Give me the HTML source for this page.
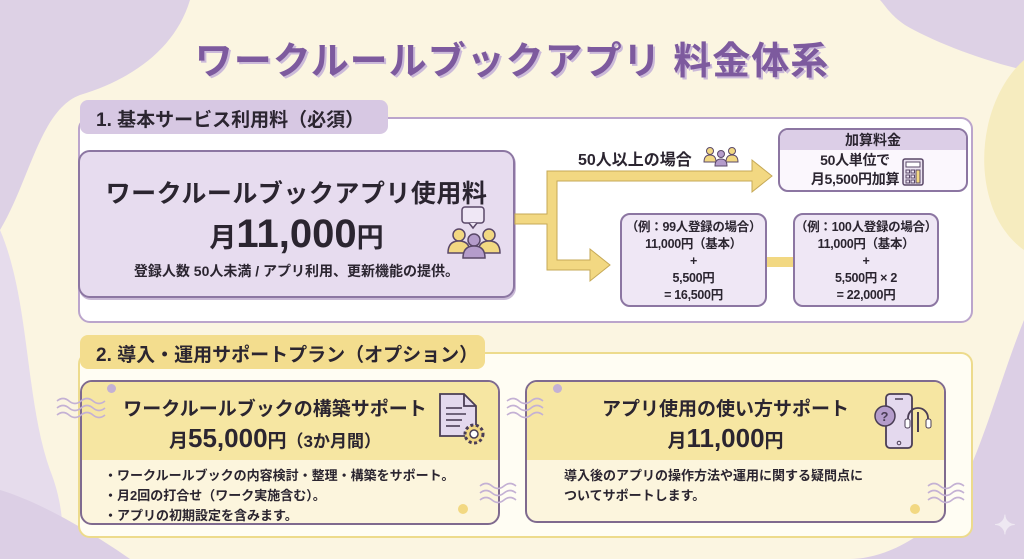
<!DOCTYPE html>
<html><head><meta charset="utf-8"><style>
*{margin:0;padding:0;box-sizing:border-box}
body{width:1024px;height:559px;overflow:hidden;position:relative;background:#fbf5e1;font-family:"Liberation Sans","Noto Sans CJK JP",sans-serif;color:#2b2530;font-weight:bold}
.a{position:absolute}
.c{text-align:center}
.ex{white-space:nowrap;letter-spacing:-0.3px}
</style></head><body>
<svg class="a" style="left:0;top:0" width="1024" height="559">
<path d="M0 0 H190 C175 50 130 80 80 95 C40 110 30 180 0 230 Z" fill="#ddd1e5"/>
<path d="M0 230 C30 300 25 400 50 470 C70 520 60 559 60 559 H0 Z" fill="#e6dcec"/>
<path d="M880 0 H1024 V70 C980 60 930 40 905 25 C890 15 885 5 880 0Z" fill="#ddd1e5"/>
<path d="M1024 60 C990 90 975 150 990 200 C1000 235 1024 250 1024 250Z" fill="#f6ecbf"/>
<path d="M1024 320 C1000 380 985 440 960 490 C930 540 880 559 850 559 H1024Z" fill="#dccfe5"/>
<path d="M0 490 C50 505 110 545 130 559 H0Z" fill="#dccfe5"/>
</svg>
<div class="a c" style="left:0;width:1024px;top:30px;font-size:38px;color:#7d5a9e;letter-spacing:1px;text-shadow:2px 2px 0 #cbb9d9">ワークルールブックアプリ 料金体系</div>

<!-- section 1 -->
<div class="a" style="left:78px;top:117px;width:895px;height:206px;background:#fff;border:2px solid #bba5cc;border-radius:12px"></div>
<div class="a" style="left:80px;top:100px;width:308px;height:34px;background:#d7c8e3;border-radius:8px;font-size:19px;padding:5px 0 0 16px">1. 基本サービス利用料（必須）</div>
<div class="a c" style="left:78px;top:150px;width:437px;height:148px;background:#e7dcef;border:2px solid #8c76a2;border-radius:12px;box-shadow:1px 2px 0 #c9b9d6">
<div style="font-size:25px;margin-top:22px;letter-spacing:0.5px">ワークルールブックアプリ使用料</div>
<div style="font-size:27px;margin-top:2px">月<span style="font-size:40px">11,000</span>円</div>
<div style="font-size:14px;margin-top:4px">登録人数 50人未満 / アプリ利用、更新機能の提供。</div>
</div>
<svg class="a" style="left:445px;top:205px" width="60" height="55">
<rect x="17" y="2" width="22" height="16" rx="3" fill="#efe7f5" stroke="#5a4868" stroke-width="1.5"/><path d="M24 18 l4 5 l4-5" fill="#efe7f5" stroke="#5a4868" stroke-width="1.5"/>
<circle cx="14" cy="30" r="6" fill="#f2d882" stroke="#5a4868" stroke-width="1.5"/><path d="M3 48 q0-12 11-12 q11 0 11 12z" fill="#f2d882" stroke="#5a4868" stroke-width="1.5"/>
<circle cx="44" cy="30" r="6" fill="#f2d882" stroke="#5a4868" stroke-width="1.5"/><path d="M33 48 q0-12 11-12 q11 0 11 12z" fill="#f2d882" stroke="#5a4868" stroke-width="1.5"/>
<circle cx="29" cy="35" r="6" fill="#b49ccb" stroke="#5a4868" stroke-width="1.5"/><path d="M18 53 q0-12 11-12 q11 0 11 12z" fill="#b49ccb" stroke="#5a4868" stroke-width="1.5"/>
</svg>
<svg class="a" style="left:510px;top:150px" width="290" height="140">
<path d="M5 64 H37 V21 H242 V10 L262 26 L242 42 V31 H47 V110 H80 V99 L100 115 L80 131 V120 H37 V74 H5Z" fill="#f2d882" stroke="#c6a957" stroke-width="1"/>
<rect x="256" y="107" width="28" height="10" fill="#f2d882"/>
</svg>
<div class="a" style="left:578px;top:146px;font-size:16px">50人以上の場合</div>
<svg class="a" style="left:703px;top:145px" width="36" height="22">
<circle cx="7" cy="6" r="3.5" fill="#f2d882" stroke="#5a4868"/><path d="M1 17 q0-7 6-7 q6 0 6 7z" fill="#f2d882" stroke="#5a4868"/>
<circle cx="29" cy="6" r="3.5" fill="#f2d882" stroke="#5a4868"/><path d="M23 17 q0-7 6-7 q6 0 6 7z" fill="#f2d882" stroke="#5a4868"/>
<circle cx="18" cy="9" r="3.5" fill="#b49ccb" stroke="#5a4868"/><path d="M12 21 q0-7 6-7 q6 0 6 7z" fill="#b49ccb" stroke="#5a4868"/>
</svg>
<div class="a" style="left:778px;top:128px;width:190px;height:64px;background:#fbf7fd;border:2px solid #8c76a2;border-radius:10px;overflow:hidden">
<div class="c" style="background:#dccee7;height:20px;font-size:14px;line-height:20px">加算料金</div>
<div class="c ex" style="font-size:14px;line-height:19px;margin-top:1px;padding-right:36px">50人単位で<br>月5,500円加算</div>
</div>
<svg class="a" style="left:902px;top:158px" width="22" height="28"><rect x="1" y="1" width="20" height="26" rx="2" fill="#ece4f2" stroke="#5a4868" stroke-width="1.5"/><rect x="4" y="4" width="14" height="5" fill="#fff" stroke="#5a4868"/><g fill="none" stroke="#5a4868"><rect x="4" y="12" width="3.5" height="3"/><rect x="9" y="12" width="3.5" height="3"/><rect x="4" y="17" width="3.5" height="3"/><rect x="9" y="17" width="3.5" height="3"/><rect x="4" y="22" width="3.5" height="3"/><rect x="9" y="22" width="3.5" height="3"/></g><rect x="14" y="12" width="4" height="13" fill="#f2d882" stroke="#5a4868"/></svg>
<div class="a c ex" style="left:620px;top:213px;width:147px;height:94px;background:#efe7f5;border:2px solid #8c76a2;border-radius:10px;font-size:12.5px;line-height:17px;padding-top:4px">（例：99人登録の場合）<br>11,000円（基本）<br>+<br>5,500円<br>= 16,500円</div>
<div class="a c ex" style="left:793px;top:213px;width:146px;height:94px;background:#efe7f5;border:2px solid #8c76a2;border-radius:10px;font-size:12.5px;line-height:17px;padding-top:4px">（例：100人登録の場合）<br>11,000円（基本）<br>+<br>5,500円 × 2<br>= 22,000円</div>

<!-- section 2 -->
<div class="a" style="left:78px;top:352px;width:895px;height:186px;background:#fffdf3;border:2px solid #eddb8c;border-radius:12px"></div>
<div class="a" style="left:80px;top:335px;width:405px;height:34px;background:#f3dd8e;border-radius:8px;font-size:19px;padding:5px 0 0 16px">2. 導入・運用サポートプラン（オプション）</div>

<div class="a" style="left:80px;top:380px;width:420px;height:145px;background:#fcf5dd;border:2px solid #7f6a8f;border-radius:12px;overflow:hidden">
<div class="c" style="background:#f6e6a2;height:78px;padding-top:12px;padding-right:30px"><div style="font-size:19px">ワークルールブックの構築サポート</div><div style="font-size:19px;margin-top:2px">月<span style="font-size:26px">55,000</span>円<span style="font-size:17px">（3か月間）</span></div></div>
<div style="font-size:13px;line-height:20px;padding:6px 0 0 22px">・ワークルールブックの内容検討・整理・構築をサポート。<br>・月2回の打合せ（ワーク実施含む）。<br>・アプリの初期設定を含みます。</div>
</div>
<svg class="a" style="left:436px;top:392px" width="56" height="58"><path d="M4 2 H28 L40 14 V44 H4Z" fill="#e4d9ee" stroke="#4a3d55" stroke-width="1.8"/><path d="M28 2 V14 H40" fill="none" stroke="#4a3d55" stroke-width="1.8"/><g stroke="#4a3d55" stroke-width="1.6"><line x1="10" y1="16" x2="26" y2="16"/><line x1="10" y1="22" x2="30" y2="22"/><line x1="10" y1="28" x2="26" y2="28"/><line x1="10" y1="34" x2="24" y2="34"/></g><circle cx="38" cy="42" r="9" fill="#f2d882" stroke="#4a3d55" stroke-width="3" stroke-dasharray="3 2.5"/><circle cx="38" cy="42" r="4" fill="#fff" stroke="#4a3d55" stroke-width="1.5"/></svg>

<div class="a" style="left:525px;top:380px;width:421px;height:143px;background:#fcf5dd;border:2px solid #7f6a8f;border-radius:12px;overflow:hidden">
<div class="c" style="background:#f6e6a2;height:78px;padding-top:12px;padding-right:20px"><div style="font-size:19px">アプリ使用の使い方サポート</div><div style="font-size:19px;margin-top:2px">月<span style="font-size:26px">11,000</span>円</div></div>
<div style="font-size:13px;line-height:20px;padding:6px 0 0 37px">導入後のアプリの操作方法や運用に関する疑問点に<br>ついてサポートします。</div>
</div>
<svg class="a" style="left:872px;top:392px" width="60" height="60"><rect x="14" y="2" width="26" height="54" rx="4" fill="#e4d9ee" stroke="#4a3d55" stroke-width="1.8"/><line x1="23" y1="7" x2="31" y2="7" stroke="#4a3d55" stroke-width="1.5"/><circle cx="27" cy="51" r="1.8" fill="none" stroke="#4a3d55"/><circle cx="13" cy="24" r="10" fill="#b49ccb" stroke="#4a3d55" stroke-width="1.5"/><text x="8.5" y="29" font-size="13" fill="#4a3d55" font-family="Liberation Sans">?</text><path d="M36 32 v-6 a10 10 0 0 1 20 0 v6" fill="none" stroke="#4a3d55" stroke-width="1.8"/><rect x="33" y="27" width="5" height="9" rx="2" fill="#fff" stroke="#4a3d55"/><rect x="54" y="27" width="5" height="9" rx="2" fill="#fff" stroke="#4a3d55"/><line x1="46" y1="20" x2="46" y2="40" stroke="#4a3d55" stroke-width="2"/></svg>
<svg class="a" style="left:55px;top:395px" width="60" height="30" fill="none" stroke="#c4b1d4" stroke-width="1.6"><path d="M2 6 q6-5 12 0 t12 0 t12 0 t12 0"/><path d="M2 13 q6-5 12 0 t12 0 t12 0 t12 0"/><path d="M2 20 q6-5 12 0 t12 0 t12 0 t12 0"/></svg>
<svg class="a" style="left:505px;top:395px" width="50" height="30" fill="none" stroke="#c4b1d4" stroke-width="1.6"><path d="M2 6 q6-5 12 0 t12 0 t12 0"/><path d="M2 13 q6-5 12 0 t12 0 t12 0"/><path d="M2 20 q6-5 12 0 t12 0 t12 0"/></svg>
<svg class="a" style="left:478px;top:480px" width="40" height="30" fill="none" stroke="#c4b1d4" stroke-width="1.6"><path d="M2 6 q6-5 12 0 t12 0 t12 0"/><path d="M2 13 q6-5 12 0 t12 0 t12 0"/><path d="M2 20 q6-5 12 0 t12 0 t12 0"/></svg>
<svg class="a" style="left:926px;top:480px" width="40" height="30" fill="none" stroke="#c4b1d4" stroke-width="1.6"><path d="M2 6 q6-5 12 0 t12 0 t12 0"/><path d="M2 13 q6-5 12 0 t12 0 t12 0"/><path d="M2 20 q6-5 12 0 t12 0 t12 0"/></svg>
<div class="a" style="left:107px;top:384px;width:9px;height:9px;border-radius:50%;background:#c4b1d4"></div>
<div class="a" style="left:553px;top:384px;width:9px;height:9px;border-radius:50%;background:#c4b1d4"></div>
<div class="a" style="left:458px;top:504px;width:10px;height:10px;border-radius:50%;background:#f2d882"></div>
<div class="a" style="left:910px;top:504px;width:10px;height:10px;border-radius:50%;background:#f2d882"></div>
<div class="a" style="left:994px;top:510px;font-size:26px;color:#eee8f2">✦</div>
</body></html>
